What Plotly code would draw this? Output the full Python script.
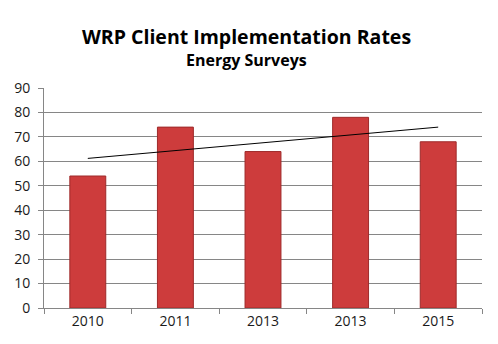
import plotly.graph_objects as go

categories = ["2010", "2011", "2013", "2013", "2015"]
values = [54, 74, 64, 78, 68]
trend_ends = [61.2, 74.0]  # linear trend line read at first and last category
y_ticks = [0, 10, 20, 30, 40, 50, 60, 70, 80, 90]

xpos = list(range(len(categories)))

fig = go.Figure()
fig.add_trace(go.Bar(
    x=xpos, y=values, width=0.41,
    marker=dict(color="#cd3c3c", line=dict(color="#9e2a2a", width=1)),
    showlegend=False, hoverinfo="y",
))
fig.add_trace(go.Scatter(
    x=[xpos[0], xpos[-1]], y=trend_ends, mode="lines",
    line=dict(color="black", width=1), showlegend=False,
))

font_family = "Open Sans, Liberation Sans, sans-serif"
fig.update_layout(
    width=498, height=344,
    margin=dict(l=44, r=16, t=88, b=36),
    paper_bgcolor="white", plot_bgcolor="white",
    font=dict(family=font_family, color="#1a1a1a", size=14),
)
plot_h = 344 - 88 - 36
plot_w = 498 - 44 - 16
fig.add_annotation(text="<b>WRP Client Implementation Rates</b>", xref="paper", yref="paper",
                   x=(246 - 44) / plot_w, y=1 + (88 - 37) / plot_h, showarrow=False,
                   font=dict(size=19.5, color="black"), xanchor="center", yanchor="middle")
fig.add_annotation(text="<b>Energy Surveys</b>", xref="paper", yref="paper",
                   x=(246 - 44) / plot_w, y=1 + (88 - 60) / plot_h, showarrow=False,
                   font=dict(size=16, color="black"), xanchor="center", yanchor="middle")

fig.update_xaxes(
    range=[-0.5, len(categories) - 0.5],
    tickvals=xpos, ticktext=categories, ticks="",
    showgrid=False, zeroline=False,
    showline=True, linecolor="#868686", linewidth=1,
    minor=dict(tickvals=[i - 0.5 for i in range(len(categories) + 1)],
               ticks="outside", ticklen=5, tickcolor="#868686", showgrid=False),
    tickfont=dict(size=14, color="#1a1a1a"),
)
fig.update_yaxes(
    range=[0, 90], tickvals=y_ticks, ticks="outside", ticklen=5, tickcolor="#868686",
    showgrid=True, gridcolor="#868686", gridwidth=1,
    zeroline=False, showline=True, linecolor="#868686", linewidth=1,
    tickfont=dict(size=14, color="#1a1a1a"), ticklabelstandoff=5,
)

fig.write_html("out.html")
